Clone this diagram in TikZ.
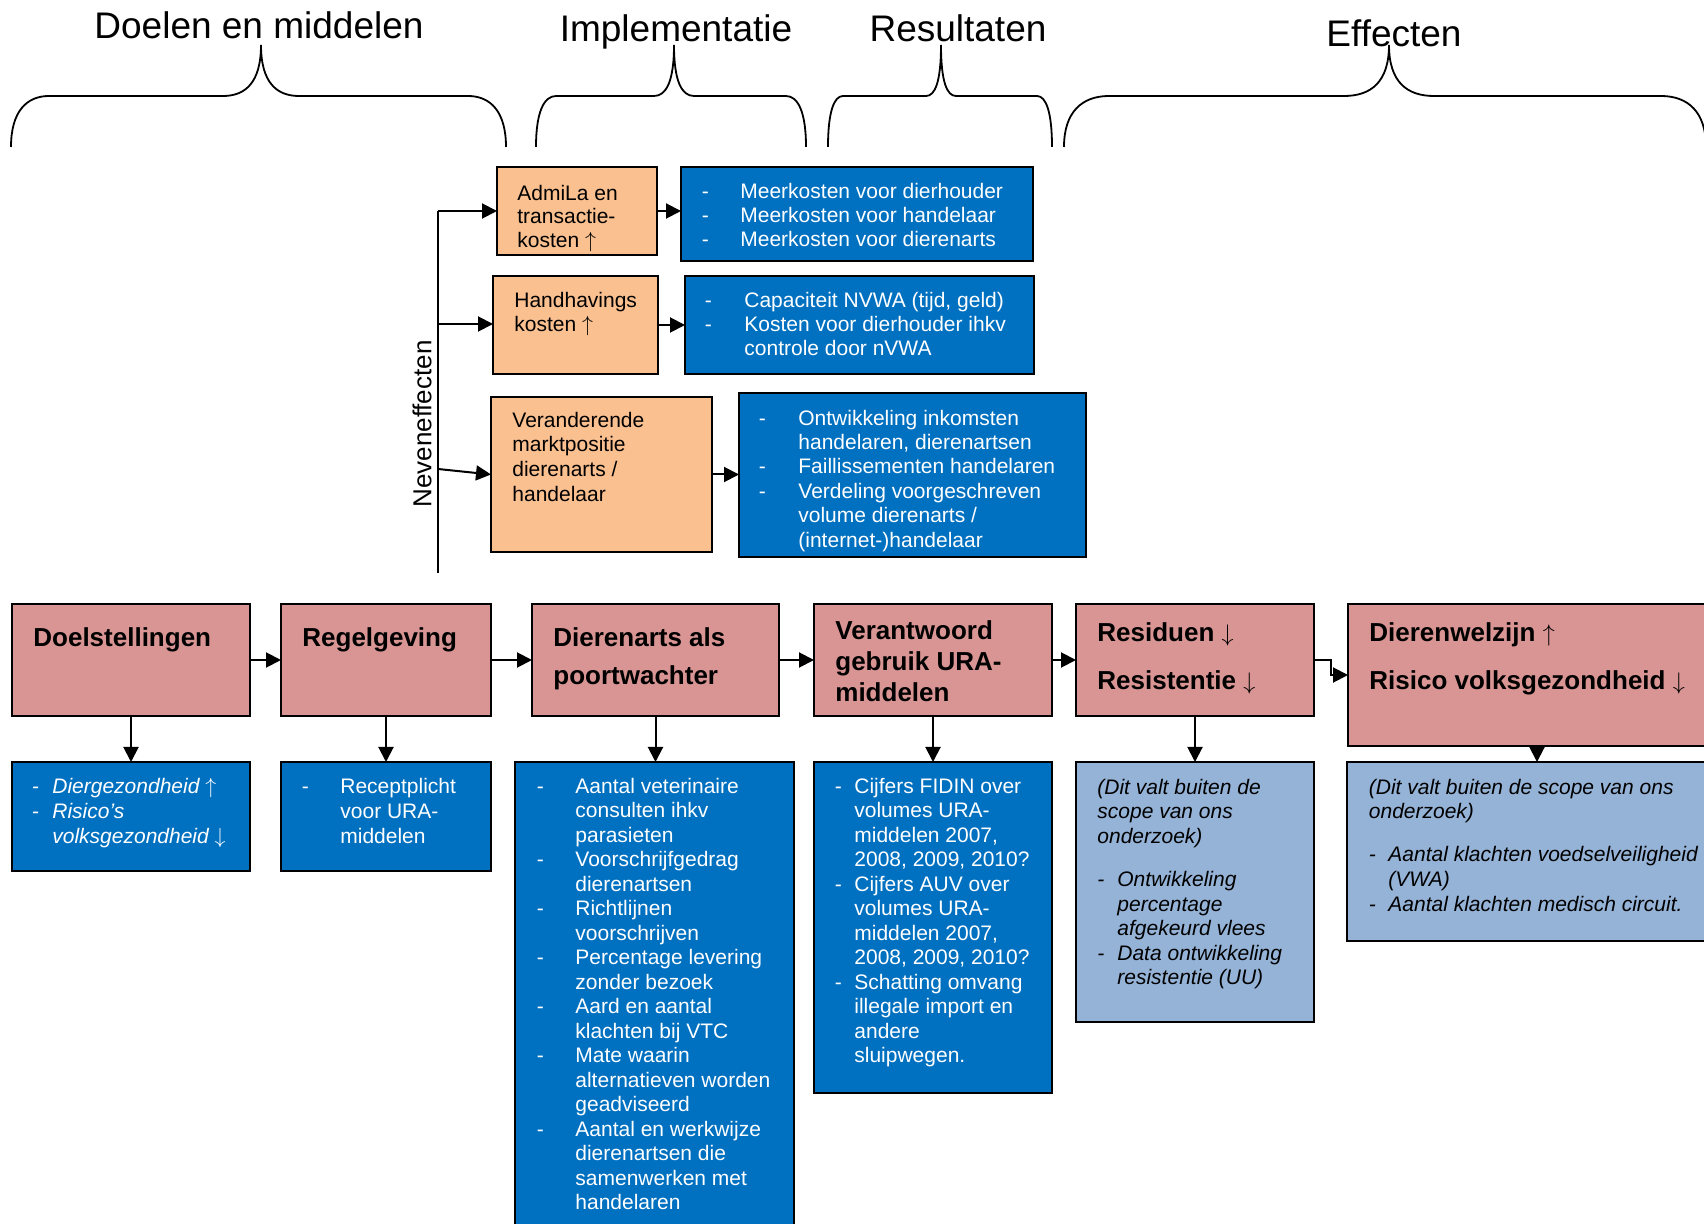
\documentclass[tikz,border=0pt]{standalone}
\usepackage{fontspec}
\setmainfont{Liberation Sans}
\usetikzlibrary{arrows.meta}
\definecolor{orng}{HTML}{FAC090}
\definecolor{dblue}{HTML}{0070C0}
\definecolor{pnk}{HTML}{D99594}
\definecolor{lblue}{HTML}{95B3D7}
\newcommand\arU{\smash{$\uparrow$}}
\newcommand\arD{\smash{$\downarrow$}}
\newcommand\itm[1]{\makebox[#1][l]{-}}
\tikzset{
 boxbase/.style={draw=black, line width=1pt, inner sep=0pt, outer sep=0pt},
 orangebox/.style={boxbase, fill=orng},
 bluebox/.style={boxbase, fill=dblue},
 pinkbox/.style={boxbase, fill=pnk},
 lightbox/.style={boxbase, fill=lblue},
 txt/.style={anchor=north west, inner sep=0pt, align=left},
 wtxt/.style={txt, text=white},
 bigtxt/.style={anchor=north west, inner sep=0pt, align=left},
 titletxt/.style={anchor=base, inner sep=0pt, font=\fontsize{18.5}{22}\selectfont},
 conn/.style={line width=1pt, -{Triangle[length=7.5pt,width=7.5pt]}},
 plainline/.style={line width=1pt},
 bracestyle/.style={line width=0.9pt},
}
\newcommand\mybox[6]{%
 \pgfmathsetlengthmacro\myBW{(#4-#2)*0.5pt}%
 \pgfmathsetlengthmacro\myBH{(#5-#3)*0.5pt}%
 \node[#6, minimum width=\myBW, minimum height=\myBH, anchor=north west] (#1) at (#2,#3) {};}
\newcommand\mybrace[4]{%
 \draw[bracestyle] (#1,147) .. controls (#1,112) and ({#1+0.4*#4},96) .. ({#1+#4},96) -- ({#3-#4},96) .. controls ({#3-0.4*#4},96) and (#3,82) .. (#3,45) .. controls (#3,82) and ({#3+0.4*#4},96) .. ({#3+#4},96) -- ({#2-#4},96) .. controls ({#2-0.4*#4},96) and (#2,112) .. (#2,147);}
\begin{document}
\begin{tikzpicture}[x=0.5pt, y=-0.5pt]
\useasboundingbox (0,0) rectangle (1704,1224);
\clip (0,0) rectangle (1704,1224);
\fill[white] (0,0) rectangle (1704,1224);

% titles and braces
\node[titletxt] (t1) at (259,39) {Doelen en middelen};
\node[titletxt] (t2) at (676,42) {Implementatie};
\node[titletxt] (t3) at (958,42) {Resultaten};
\node[titletxt] (t4) at (1394,47) {Effecten};
\mybrace{11}{506}{261}{38}
\mybrace{536}{806}{674}{20}
\mybrace{828}{1052}{941}{15}
\mybrace{1064}{1706}{1389}{45}

% side effects boxes
\mybox{o1}{497}{167}{657}{255}{orangebox}
\mybox{b1}{681}{167}{1033}{261}{bluebox}
\mybox{o2}{493}{276}{658}{374}{orangebox}
\mybox{b2}{685}{276}{1034}{374}{bluebox}
\mybox{o3}{491}{397}{712}{552}{orangebox}
\mybox{b3}{739}{393}{1086}{557}{bluebox}

\node[txt, font=\fontsize{10.5}{11.75}\selectfont] (o1t) at (517,184.5) {AdmiLa en\\transactie-\\kosten \arU};
\node[txt, font=\fontsize{10.5}{12}\selectfont] (o2t) at (514,291.5) {Handhavings\\kosten \arU};
\node[txt, font=\fontsize{10.5}{12.35}\selectfont] (o3t) at (512,411.5) {Veranderende\\marktpositie\\dierenarts /\\handelaar};

\node[wtxt, font=\fontsize{10.5}{12.2}\selectfont] (b1t) at (701.5,182.5) {\itm{19.25pt}Meerkosten voor dierhouder\\\itm{19.25pt}Meerkosten voor handelaar\\\itm{19.25pt}Meerkosten voor dierenarts};
\node[wtxt, font=\fontsize{10.5}{12.2}\selectfont] (b2t) at (704.5,291.5) {\itm{19.75pt}Capaciteit NVWA (tijd, geld)\\\itm{19.75pt}Kosten voor dierhouder ihkv\\\hspace*{19.75pt}controle door nVWA};
\node[wtxt, font=\fontsize{10.5}{12.2}\selectfont] (b3t) at (758.5,409.5) {\itm{19.75pt}Ontwikkeling inkomsten\\\hspace*{19.75pt}handelaren, dierenartsen\\\itm{19.75pt}Faillissementen handelaren\\\itm{19.75pt}Verdeling voorgeschreven\\\hspace*{19.75pt}volume dierenarts /\\\hspace*{19.75pt}(internet-)handelaar};

\node[rotate=90, inner sep=0pt, font=\fontsize{13}{15}\selectfont] (nev) at (422,424) {Neveneffecten};
\coordinate (nvtop) at (438,211);
\coordinate (nvbot) at (438,573);
\coordinate (n2) at (438,324);
\coordinate (n3) at (438,469);
\draw[plainline] (nvbot) -- (nvtop);
\draw[conn] (nvtop) -- (o1.west);
\draw[conn] (n2) -- (n2 -| o2.west);
\draw[conn] (n3) -- (o3.west);
\draw[conn] (o1.east) -- (o1.east -| b1.west);
\draw[conn] (o2.east) -- (o2.east -| b2.west);
\draw[conn] (o3.east) -- (o3.east -| b3.west);

% main chain
\mybox{doel}{12}{604}{250}{716}{pinkbox}
\mybox{reg}{281}{604}{491}{716}{pinkbox}
\mybox{dier}{532}{604}{779}{716}{pinkbox}
\mybox{ver}{814}{604}{1052}{716}{pinkbox}
\mybox{res}{1076}{604}{1314}{716}{pinkbox}
\mybox{dw}{1348}{604}{1726}{746}{pinkbox}

\node[bigtxt, font=\bfseries\fontsize{13}{15.5}\selectfont] (doelt) at (33,627.7) {Doelstellingen};
\node[bigtxt, font=\bfseries\fontsize{13}{15.5}\selectfont] (regt) at (302,627.7) {Regelgeving};
\node[bigtxt, font=\bfseries\fontsize{13}{19}\selectfont] (diert) at (553,627.7) {Dierenarts als\\poortwachter};
\node[bigtxt, font=\bfseries\fontsize{13}{15.5}\selectfont] (vert) at (835,620.7) {Verantwoord\\gebruik URA-\\middelen};
\node[bigtxt, font=\bfseries\fontsize{13}{24}\selectfont] (rest) at (1097,622.7) {Residuen \arD\\Resistentie \arD};
\node[bigtxt, font=\bfseries\fontsize{13}{24}\selectfont] (dwt) at (1369,622.7) {Dierenwelzijn \arU\\Risico volksgezondheid \arD};

\draw[conn] (doel.east) -- (reg.west);
\draw[conn] (reg.east) -- (dier.west);
\draw[conn] (dier.east) -- (ver.west);
\draw[conn] (ver.east) -- (res.west);
\draw[conn] (res.east) -- ++(17,0) |- (dw.west);

% indicator boxes
\mybox{doelb}{12}{762}{250}{871}{bluebox}
\mybox{regb}{281}{762}{491}{871}{bluebox}
\mybox{dierb}{515}{762}{794}{1240}{bluebox}
\mybox{verb}{814}{762}{1052}{1093}{bluebox}
\mybox{resb}{1076}{762}{1314}{1022}{lightbox}
\mybox{dwb}{1347}{762}{1727}{941}{lightbox}

\draw[conn] (doel.south) -- (doelb.north);
\draw[conn] (reg.south) -- (regb.north);
\draw[conn] (dier.south) -- (dier.south |- dierb.north);
\draw[conn] (ver.south) -- (verb.north);
\draw[conn] (res.south) -- (resb.north);
\draw[conn] (dw.south) -- (dwb.north);

\node[wtxt, font=\itshape\fontsize{10.5}{12.5}\selectfont] (doelbt) at (31.5,777.5) {\itm{10.25pt}Diergezondheid \arU\\\itm{10.25pt}Risico’s\\\hspace*{10.25pt}volksgezondheid \arD};
\node[wtxt, font=\fontsize{10.5}{12.5}\selectfont] (regbt) at (301.5,777.5) {\itm{19.25pt}Receptplicht\\\hspace*{19.25pt}voor URA-\\\hspace*{19.25pt}middelen};
\node[wtxt, font=\fontsize{10.5}{12.25}\selectfont] (dierbt) at (536.5,777.5) {\itm{19.25pt}Aantal veterinaire\\\hspace*{19.25pt}consulten ihkv\\\hspace*{19.25pt}parasieten\\\itm{19.25pt}Voorschrijfgedrag\\\hspace*{19.25pt}dierenartsen\\\itm{19.25pt}Richtlijnen\\\hspace*{19.25pt}voorschrijven\\\itm{19.25pt}Percentage levering\\\hspace*{19.25pt}zonder bezoek\\\itm{19.25pt}Aard en aantal\\\hspace*{19.25pt}klachten bij VTC\\\itm{19.25pt}Mate waarin\\\hspace*{19.25pt}alternatieven worden\\\hspace*{19.25pt}geadviseerd\\\itm{19.25pt}Aantal en werkwijze\\\hspace*{19.25pt}dierenartsen die\\\hspace*{19.25pt}samenwerken met\\\hspace*{19.25pt}handelaren};
\node[wtxt, font=\fontsize{10.5}{12.25}\selectfont] (verbt) at (834.5,777.5) {\itm{9.75pt}Cijfers FIDIN over\\\hspace*{9.75pt}volumes URA-\\\hspace*{9.75pt}middelen 2007,\\\hspace*{9.75pt}2008, 2009, 2010?\\\itm{9.75pt}Cijfers AUV over\\\hspace*{9.75pt}volumes URA-\\\hspace*{9.75pt}middelen 2007,\\\hspace*{9.75pt}2008, 2009, 2010?\\\itm{9.75pt}Schatting omvang\\\hspace*{9.75pt}illegale import en\\\hspace*{9.75pt}andere\\\hspace*{9.75pt}sluipwegen.};
\node[txt, font=\itshape\fontsize{10.5}{12.3}\selectfont] (resbt) at (1097,778.5) {(Dit valt buiten de\\scope van ons\\onderzoek)\\[9.25pt]\itm{10pt}Ontwikkeling\\\hspace*{10pt}percentage\\\hspace*{10pt}afgekeurd vlees\\\itm{10pt}Data ontwikkeling\\\hspace*{10pt}resistentie (UU)};
\node[txt, font=\itshape\fontsize{10.5}{12.3}\selectfont] (dwbt) at (1368.5,778.5) {(Dit valt buiten de scope van ons\\onderzoek)\\[9.25pt]\itm{9.75pt}Aantal klachten voedselveiligheid\\\hspace*{9.75pt}(VWA)\\\itm{9.75pt}Aantal klachten medisch circuit.};
\end{tikzpicture}
\end{document}
